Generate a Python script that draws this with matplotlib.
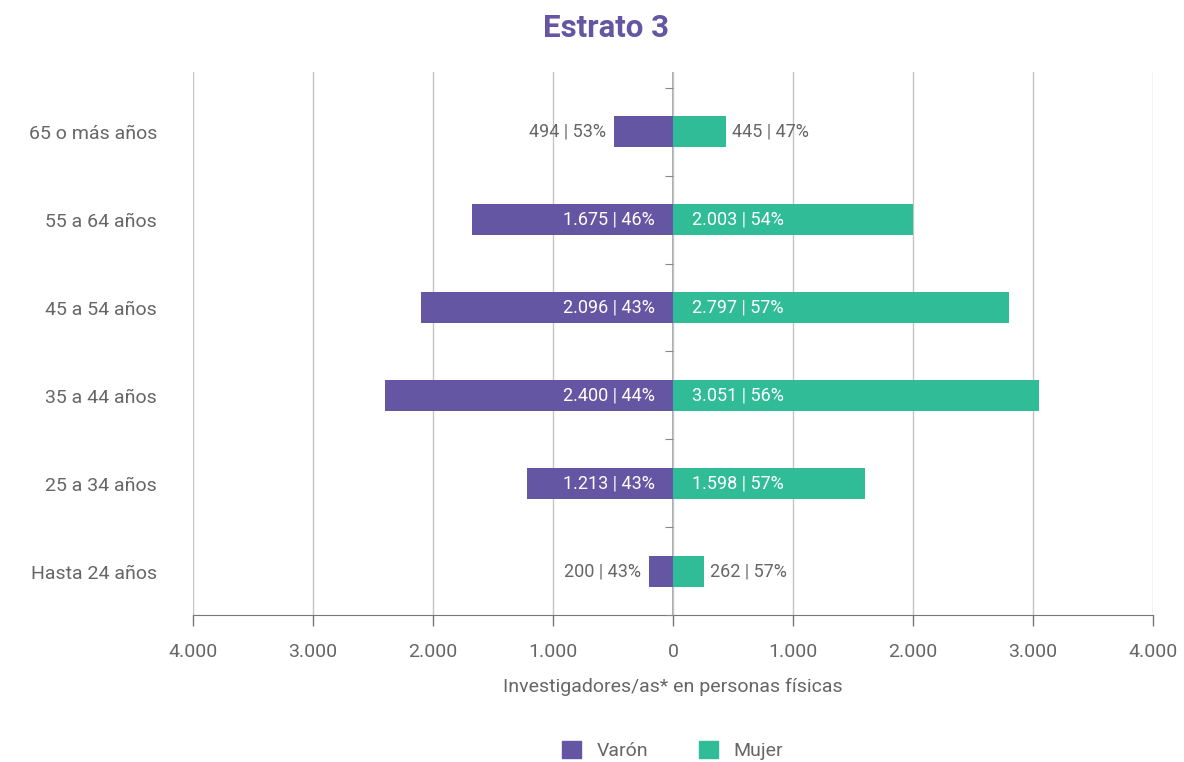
import matplotlib.pyplot as plt
from matplotlib.patches import Patch

# Datos
edades = ['Hasta 24 años', '25 a 34 años', '35 a 44 años',
          '45 a 54 años', '55 a 64 años', '65 o más años']
varon = [200, 1213, 2400, 2096, 1675, 494]
mujer = [262, 1598, 3051, 2797, 2003, 445]
ticks_x = [-4000, -3000, -2000, -1000, 0, 1000, 2000, 3000, 4000]

COLOR_VARON = '#6556A3'
COLOR_MUJER = '#31BC98'
GRIS = '#666666'

plt.rcParams['font.family'] = ['Roboto', 'DejaVu Sans']


def fmt(n):
    return f'{n:,}'.replace(',', '.')


fig = plt.figure(figsize=(11.84, 7.62), dpi=100)
ax = fig.add_axes([0.163, 0.1929, 0.8108, 0.7126])

y = list(range(len(edades)))
ax.barh(y, [-v for v in varon], height=0.35, color=COLOR_VARON, zorder=3)
ax.barh(y, mujer, height=0.35, color=COLOR_MUJER, zorder=3)

# Etiquetas de valores
for i, (v, m) in enumerate(zip(varon, mujer)):
    tot = v + m
    tv = f'{fmt(v)} | {round(100 * v / tot)}%'
    tm = f'{fmt(m)} | {round(100 * m / tot)}%'
    if v > 800:
        ax.annotate(tv, (0, i), xytext=(-18, 0), textcoords='offset pixels',
                    ha='right', va='center', color='white', fontsize=13, zorder=4)
    else:
        ax.annotate(tv, (-v, i), xytext=(-8, 0), textcoords='offset pixels',
                    ha='right', va='center', color=GRIS, fontsize=13, zorder=4)
    if m > 800:
        ax.annotate(tm, (0, i), xytext=(19, 0), textcoords='offset pixels',
                    ha='left', va='center', color='white', fontsize=13, zorder=4)
    else:
        ax.annotate(tm, (m, i), xytext=(6, 0), textcoords='offset pixels',
                    ha='left', va='center', color=GRIS, fontsize=13, zorder=4)

ax.set_xlim(-4000, 4000)
ax.set_ylim(-0.49, 5.68)
ax.set_xticks(ticks_x)
ax.set_xticklabels([fmt(abs(t)) for t in ticks_x])
ax.set_yticks(y)
ax.set_yticklabels(edades)
ax.tick_params(axis='y', length=0, pad=26, labelsize=14, labelcolor=GRIS)
ax.tick_params(axis='x', length=8, width=1, color='#777777', pad=12,
               labelsize=14, labelcolor=GRIS)

# Rejilla vertical
ax.grid(axis='x', color='#c4c4c4', linewidth=1, zorder=0)
ax.axvline(0, color='#9a9a9a', linewidth=1.2, zorder=1)

for s in ['top', 'right', 'left']:
    ax.spines[s].set_visible(False)
ax.spines['bottom'].set_color('#777777')

# Marcas del eje central entre categorías
ax2 = ax.twinx()
ax2.set_ylim(ax.get_ylim())
ax2.spines['right'].set_position(('data', 0))
ax2.spines['right'].set_visible(False)
for s in ['top', 'left', 'bottom']:
    ax2.spines[s].set_visible(False)
ax2.set_yticks([i + 0.5 for i in range(-1, len(edades))])
ax2.set_yticklabels([])
ax2.tick_params(axis='y', direction='in', length=6, color='#888888')

ax.set_xlabel('Investigadores/as* en personas físicas', fontsize=14,
              color=GRIS, labelpad=12)
fig.text(0.512, 0.963, 'Estrato 3', ha='center', va='center', fontsize=22.5,
         fontweight='bold', color=COLOR_VARON)

handles = [Patch(color=COLOR_VARON, label='Varón'),
           Patch(color=COLOR_MUJER, label='Mujer')]
fig.legend(handles=handles, loc='center', bbox_to_anchor=(0.568, 0.015),
           ncol=2, frameon=False, fontsize=14, labelcolor=GRIS,
           handlelength=1.0, handleheight=1.0, columnspacing=2.6)

fig.savefig('out.png', dpi=100)
